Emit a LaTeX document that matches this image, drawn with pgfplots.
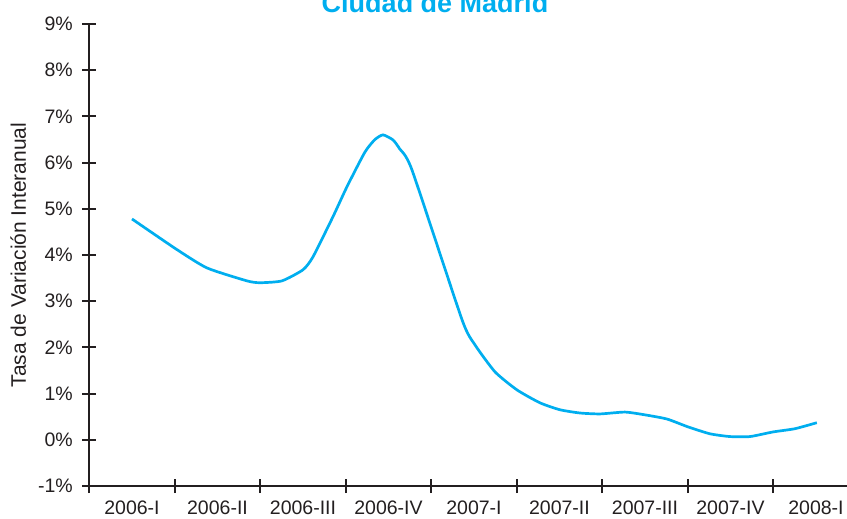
\documentclass[border=0pt]{standalone}
\usepackage{pgfplots}
\pgfplotsset{compat=1.18}
\usepackage{fontspec}
\setmainfont{Liberation Sans}
\definecolor{cy}{HTML}{00AEEF}
\definecolor{ax}{HTML}{231F20}
\begin{document}
\begin{tikzpicture}
\begin{axis}[name=ax, scale only axis, width=757.75bp, height=462bp,
  xmin=-0.5, xmax=8.363, ymin=-1, ymax=9, clip=false,
  axis lines=left, axis line style={-, line width=2bp, ax},
  ytick={-1,0,...,9},
  yticklabels={-1\%,0\%,1\%,2\%,3\%,4\%,5\%,6\%,7\%,8\%,9\%},
  xtick={-0.5,0.5,...,7.5},
  xticklabels={2006-I,2006-II,2006-III,2006-IV,2007-I,2007-II,2007-III,2007-IV,2008-I},
  tick align=center, major tick length=14bp,
  tick style={line width=2bp, ax},
  ticklabel style={font=\fontsize{19.5bp}{22bp}\selectfont, text=ax},
  xticklabel style={xshift=42.75bp, yshift=-4bp},
  yticklabel style={xshift=-6bp},
  every axis y label/.style={at={(axis description cs:0,0.5)}, rotate=90, anchor=center, yshift=71bp, font=\fontsize{21bp}{24bp}\selectfont, text=ax},
  ylabel={Tasa de Variación Interanual},
]
\addplot[cy, line width=2.7bp, smooth, tension=0.35] table {
x y
0.000 4.78
0.515 4.13
0.877 3.72
1.345 3.44
1.497 3.40
1.754 3.44
2.000 3.68
2.117 3.96
2.351 4.83
2.515 5.48
2.725 6.23
2.842 6.50
2.936 6.60
3.053 6.49
3.130 6.30
3.275 5.84
3.860 2.60
4.010 2.06
4.246 1.47
4.503 1.08
4.772 0.80
5.006 0.65
5.240 0.58
5.474 0.56
5.766 0.60
6.000 0.54
6.257 0.45
6.503 0.28
6.760 0.13
6.994 0.07
7.228 0.07
7.497 0.17
7.754 0.24
8.010 0.37
};
\node[anchor=base, font=\bfseries\fontsize{27bp}{30bp}\selectfont, text=cy] at (axis cs:3.544,9.24) {Ciudad de Madrid};
\end{axis}
\pgfresetboundingbox
\path[use as bounding box] ([xshift=-89.25bp,yshift=-33bp]ax.south west) rectangle ([xshift=757.75bp,yshift=486bp]ax.south west);
\end{tikzpicture}
\end{document}
